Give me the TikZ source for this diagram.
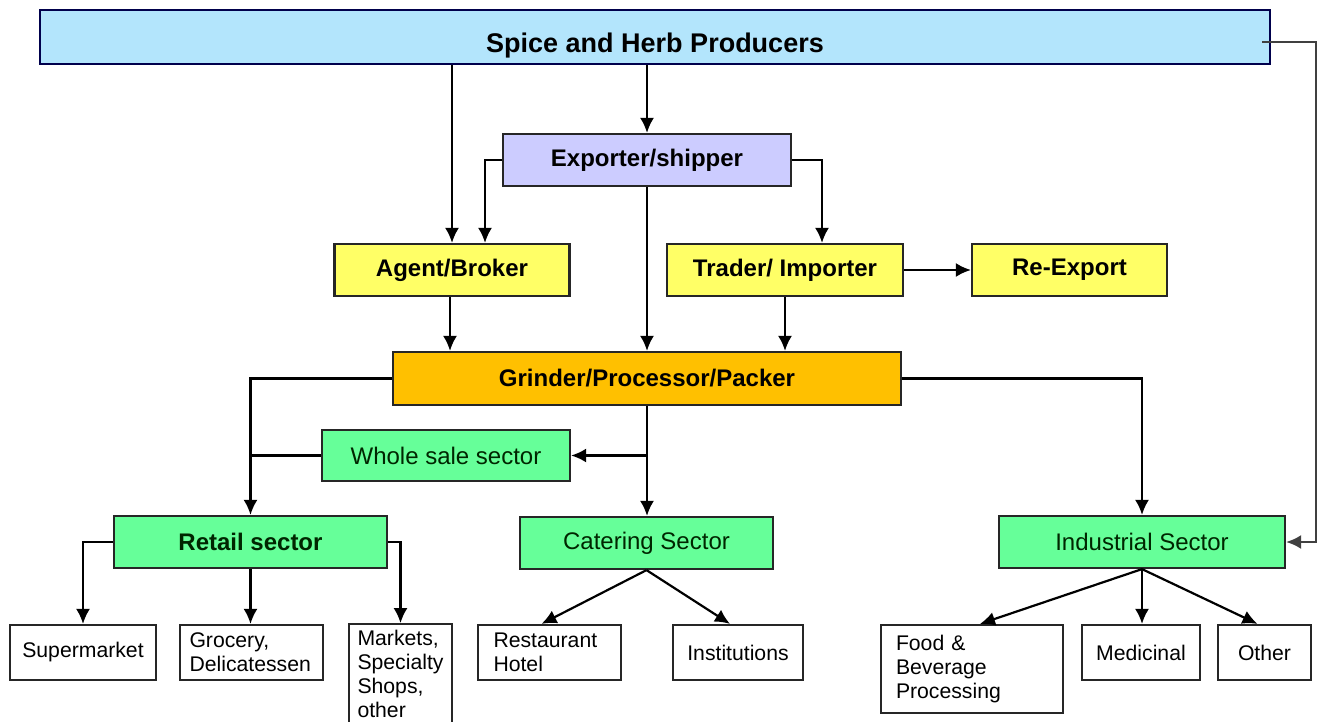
\documentclass[tikz,border=0pt]{standalone}
\usepackage{fontspec}
\setmainfont{Liberation Sans}
\usepackage{xcolor}
\usepackage{tikz}
\usetikzlibrary{arrows.meta}

\definecolor{prodblue}{HTML}{B3E5FC}
\definecolor{expviolet}{HTML}{CCCCFF}
\definecolor{brokyellow}{HTML}{FFFF66}
\definecolor{grindorange}{HTML}{FFC000}
\definecolor{sectgreen}{HTML}{66FF99}

\begin{document}
\begin{tikzpicture}[x=0.5pt, y=-0.5pt, line width=1.1pt,
    >={Latex[length=7.5pt,width=7pt]},
    box/.style={draw=black!85, rectangle, minimum height=26pt, inner sep=3pt},
    mainbox/.style={box, font=\fontsize{12}{14}\selectfont},
    sectbox/.style={mainbox, fill=sectgreen, text=black!85!green},
    leafbox/.style={box, minimum height=27.5pt, font=\fontsize{10.6}{12}\selectfont},
    leftleaf/.style={leafbox, align=left, text width=#1}]
    \useasboundingbox (0,0) rectangle (1318,722);

    % Components
    \node[box, minimum width=615pt, minimum height=27pt, inner ysep=0pt, text height=18.5pt,
          fill=prodblue, draw=black!70!blue,
          font=\fontsize{13.5}{16}\selectfont\bfseries] (prod) at (655,37) {Spice and Herb Producers};

    \node[mainbox, minimum width=144pt, fill=expviolet, font=\fontsize{12}{14}\selectfont\bfseries] (exp) at (647,160) {Exporter/shipper};

    \node[mainbox, minimum width=117.5pt, fill=brokyellow, font=\fontsize{12}{14}\selectfont\bfseries] (agent) at (452,270) {Agent/Broker};
    \node[mainbox, minimum width=118pt, fill=brokyellow, font=\fontsize{12}{14}\selectfont\bfseries] (trader) at (785,270) {Trader/ Importer};
    \node[mainbox, minimum width=97.5pt, fill=brokyellow, font=\fontsize{12}{14}\selectfont\bfseries] (reexp) at (1069.5,270) {Re-Export};

    \node[mainbox, minimum width=254pt, minimum height=26.5pt, fill=grindorange, font=\fontsize{12}{14}\selectfont\bfseries] (grind) at (647,378.5) {Grinder/Processor/Packer};

    \node[sectbox, minimum width=124pt, minimum height=25.5pt] (whole) at (446,455.5) {Whole sale sector};
    \node[sectbox, minimum width=136.5pt, font=\fontsize{12}{14}\selectfont\bfseries] (retail) at (250.5,542) {Retail sector};
    \node[sectbox, minimum width=126.5pt] (cater) at (646.5,543) {Catering Sector};
    \node[sectbox, minimum width=143pt] (indus) at (1142,542) {Industrial Sector};

    \node[leafbox, minimum width=73pt] (superm) at (83,652.5) {Supermarket};
    \node[leftleaf=62pt, minimum width=71.5pt] (groc) at (251.5,652.5) {Grocery,\\Delicatessen};
    \node[leftleaf=43pt, minimum width=51.5pt, minimum height=49pt] (mkts) at (400.5,674) {Markets,\\Specialty\\Shops,\\other};
    \node[leftleaf=56pt, minimum width=71.5pt] (rest) at (549.5,652.5) {Restaurant\\Hotel};
    \node[leafbox, minimum width=65pt] (inst) at (738,652.5) {Institutions};
    \node[leftleaf=76pt, minimum width=91pt, minimum height=44pt] (food) at (972,669) {Food \&\\Beverage\\Processing};
    \node[leafbox, minimum width=59pt] (medic) at (1141,652.5) {Medicinal};
    \node[leafbox, minimum width=46.5pt] (other) at (1264.5,652.5) {Other};

    \coordinate (fbstart) at (1262,42);
    \coordinate (fbtop) at (1316,42);

    % Connections
    \draw[->] (prod.south -| agent.north) -- (agent.north);
    \draw[->] (prod.south -| exp.north) -- (exp.north);
    \draw[->] (exp.west) -| ([xshift=16.5pt]agent.north);
    \draw[->] (exp.east) -| ([xshift=18.5pt]trader.north);
    \draw[->] (exp.south) -- (grind.north);
    \draw[->] ([xshift=-1pt]agent.south) -- ([xshift=-1pt]agent.south |- grind.north);
    \draw[->] (trader.south) -- (trader.south |- grind.north);
    \draw[->] (trader.east) -- (reexp.west);

    \draw[->] (grind.west) -| (retail.north);
    \draw[->] (grind.east) -| (indus.north);
    \draw[->] (grind.south) -- (grind.south |- cater.north);
    \draw[->] (grind.south |- whole.east) -- (whole.east);
    \draw (whole.west) -- (whole.west -| retail.north);

    \draw[->] (retail.west) -| (superm.north);
    \draw[->] (retail.south) -- (retail.south |- groc.north);
    \draw[->] (retail.east) -| (mkts.north);

    \draw[->] (cater.south) -- ([xshift=-4pt]rest.north);
    \draw[->] (cater.south) -- ([xshift=-4pt]inst.north);

    \draw[->] (indus.south) -- ([xshift=4pt]food.north);
    \draw[->] (indus.south) -- (indus.south |- medic.north);
    \draw[->] (indus.south) -- ([xshift=-3.5pt]other.north);

    \draw[->, black!75] (fbstart) -- (fbtop) |- (indus.east);

\end{tikzpicture}
\end{document}
